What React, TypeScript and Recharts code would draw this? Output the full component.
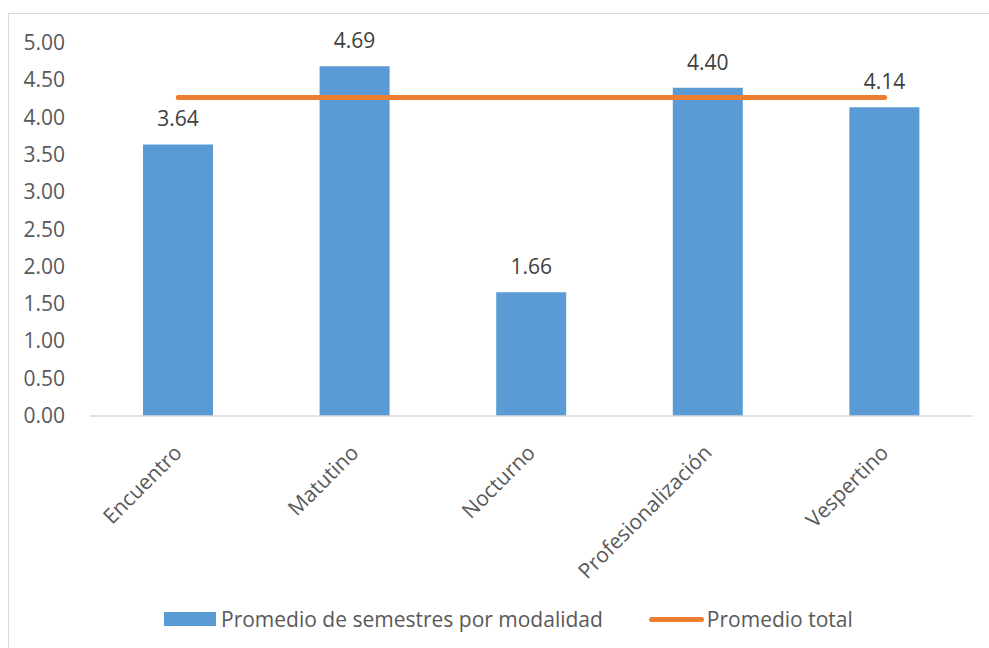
import React from 'react';
import { ComposedChart, Bar, Line, XAxis, YAxis, Legend, LabelList } from 'recharts';

const modalidades = ['Encuentro', 'Matutino', 'Nocturno', 'Profesionalización', 'Vespertino'];
const promedioSemestres = [3.64, 4.69, 1.66, 4.4, 4.14];
const promedioTotal = [4.27, 4.27, 4.27, 4.27, 4.27];
const yTicks = [0, 0.5, 1, 1.5, 2, 2.5, 3, 3.5, 4, 4.5, 5];

const BAR_LABEL = 'Promedio de semestres por modalidad';
const LINE_LABEL = 'Promedio total';

const BLUE = '#5B9BD5';
const ORANGE = '#ED7D31';
const TEXT = '#595959';
const FONT = '"Open Sans", "Noto Sans", sans-serif';
const FONT_SIZE = 21;

const data = modalidades.map((m, i) => ({
  modalidad: m,
  semestres: promedioSemestres[i],
  total: promedioTotal[i],
}));

const CategoryTick = (props: any) => {
  const { x, y, payload } = props;
  return (
    <g transform={`translate(${x + 5},${y + 30})`}>
      <text textAnchor="end" transform="rotate(-45)" fill={TEXT} fontSize={FONT_SIZE} fontFamily={FONT}>
        {payload.value}
      </text>
    </g>
  );
};

const ValueTick = (props: any) => {
  const { x, y, payload } = props;
  return (
    <text x={x - 17} y={y} dy={7} textAnchor="end" fill={TEXT} fontSize={FONT_SIZE} fontFamily={FONT}>
      {Number(payload.value).toFixed(2)}
    </text>
  );
};

const ChartLegend = () => (
  <div
    style={{
      display: 'flex',
      alignItems: 'center',
      marginLeft: 134,
      fontFamily: FONT,
      fontSize: FONT_SIZE,
      color: TEXT,
      whiteSpace: 'nowrap',
    }}
  >
    <span style={{ display: 'inline-block', width: 52, height: 14, background: BLUE, marginRight: 5 }} />
    <span style={{ marginRight: 46 }}>{BAR_LABEL}</span>
    <span style={{ display: 'inline-block', width: 55, height: 5, borderRadius: 3, background: ORANGE, marginRight: 3 }} />
    <span>{LINE_LABEL}</span>
  </div>
);

export default function App() {
  return (
    <div
      style={{
        position: 'fixed',
        left: 8,
        top: 13,
        width: 1000,
        height: 700,
        border: '1px solid #d9d9d9',
        background: '#fff',
      }}
    >
      <ComposedChart
        width={980}
        height={634}
        data={data}
        margin={{ top: 29, right: 16, left: 21, bottom: 3 }}
      >
        <XAxis
          dataKey="modalidad"
          height={189}
          interval={0}
          tick={<CategoryTick />}
          tickLine={false}
          axisLine={{ stroke: '#d9d9d9', strokeWidth: 1.5 }}
        />
        <YAxis
          width={60}
          domain={[0, 5]}
          ticks={yTicks}
          tick={<ValueTick />}
          tickLine={false}
          axisLine={false}
        />
        <Legend verticalAlign="bottom" height={40} content={<ChartLegend />} />
        <Bar dataKey="semestres" name={BAR_LABEL} fill={BLUE} barSize={70} isAnimationActive={false}>
          <LabelList
            dataKey="semestres"
            position="top"
            offset={18}
            formatter={(v: any) => Number(v).toFixed(2)}
            style={{ fill: '#404040', fontSize: FONT_SIZE, fontFamily: FONT }}
          />
        </Bar>
        <Line
          dataKey="total"
          name={LINE_LABEL}
          stroke={ORANGE}
          strokeWidth={5}
          strokeLinecap="round"
          dot={false}
          activeDot={false}
          isAnimationActive={false}
        />
      </ComposedChart>
    </div>
  );
}
